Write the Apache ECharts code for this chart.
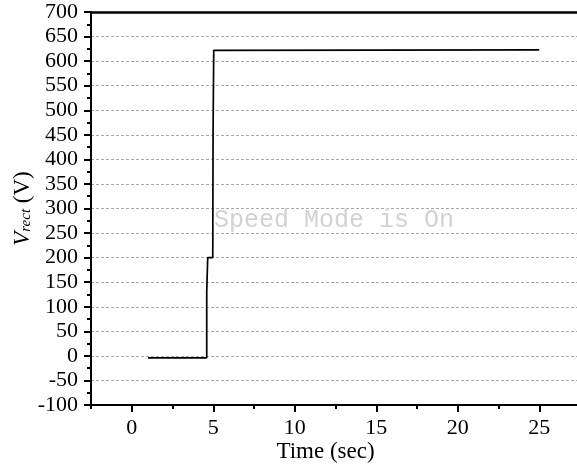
<!DOCTYPE html>
<html>
<head>
<meta charset="utf-8">
<script src="https://cdn.jsdelivr.net/npm/echarts@6/dist/echarts.min.js"></script>
<style>
html,body{margin:0;padding:0;background:#fff;}
#chart{width:577px;height:468px;}
</style>
</head>
<body>
<div id="chart"></div>
<script>
// Data
var timeSec = [1, 4.6, 4.6, 4.66, 4.66, 4.97, 4.99, 5.03, 5.08, 25];
var vrect   = [-4, -4, 130, 130, 200, 200, 460, 622, 625, 623];
var xTickLabels = [0, 5, 10, 15, 20, 25];
var yTickLabels = [-100, -50, 0, 50, 100, 150, 200, 250, 300, 350, 400, 450, 500, 550, 600, 650, 700];
var watermark = 'Speed Mode is On';

var points = timeSec.map(function (t, i) { return [t, vrect[i]]; });
var serif = '"Liberation Serif", "Times New Roman", serif';

var chart = echarts.init(document.getElementById('chart'), null, {renderer: 'canvas'});
chart.setOption({
  animation: false,
  backgroundColor: '#ffffff',
  grid: {left: 91, top: 12, bottom: 63, right: -3, containLabel: false, outerBoundsMode: 'none'},
  xAxis: [
    {
      type: 'value', min: -2.5, max: 27.5, position: 'bottom',
      name: 'Time (sec)', nameLocation: 'middle', nameGap: 35, nameMoveOverlap: false,
      nameTextStyle: {fontFamily: serif, fontSize: 23, color: '#000', padding: [0, 20, 0, 0]},
      axisLine: {show: true, onZero: false, lineStyle: {color: '#000', width: 2}},
      axisTick: {show: true, inside: false, length: 7, lineStyle: {color: '#000', width: 2}, customValues: xTickLabels},
      axisLabel: {show: true, margin: 12, fontFamily: serif, fontSize: 22, color: '#000', customValues: xTickLabels},
      splitLine: {show: false}
    },
    {
      type: 'value', min: -2.5, max: 27.5, interval: 2.5, position: 'bottom',
      axisLine: {show: false, onZero: false},
      axisTick: {show: true, length: 4, lineStyle: {color: '#000', width: 2}},
      axisLabel: {show: false},
      splitLine: {show: false}
    },
    {
      type: 'value', min: -2.5, max: 27.5, position: 'top',
      axisLine: {show: true, onZero: false, lineStyle: {color: '#000', width: 2.5}},
      axisTick: {show: false},
      axisLabel: {show: false},
      splitLine: {show: false}
    }
  ],
  yAxis: {
    type: 'value', min: -100, max: 700, interval: 50,
    name: '{i|V}{s|rect}{n| (V)}', nameLocation: 'middle', nameGap: 57, nameRotate: 90, nameMoveOverlap: false,
    nameTextStyle: {
      color: '#000',
      rich: {
        i: {fontFamily: serif, fontSize: 23, fontStyle: 'italic', color: '#000'},
        s: {fontFamily: serif, fontSize: 15, fontStyle: 'italic', color: '#000', verticalAlign: 'bottom', padding: [8, 0, 0, 0]},
        n: {fontFamily: serif, fontSize: 23, color: '#000'}
      }
    },
    axisLine: {show: true, onZero: false, lineStyle: {color: '#000', width: 2}},
    axisTick: {show: true, length: 7, lineStyle: {color: '#000', width: 2}},
    minorTick: {show: true, splitNumber: 2, length: 4, lineStyle: {color: '#000', width: 2}},
    axisLabel: {
      margin: 13, fontFamily: serif, fontSize: 22, color: '#000',
      customValues: yTickLabels
    },
    splitLine: {show: true, lineStyle: {color: '#a8a8a8', width: 1, type: [3, 2]}},
    minorSplitLine: {show: false}
  },
  graphic: [
    {
      type: 'text', left: 214, top: 208, z: 100,
      style: {text: watermark, fontFamily: '"Liberation Mono", "Courier New", monospace', fontSize: 25, fill: '#d2d2d2'}
    }
  ],
  series: [
    {
      type: 'line', xAxisIndex: 0, data: points, showSymbol: false, symbol: 'none',
      lineStyle: {color: '#000', width: 1.7}, clip: true
    }
  ]
});
</script>
</body>
</html>
